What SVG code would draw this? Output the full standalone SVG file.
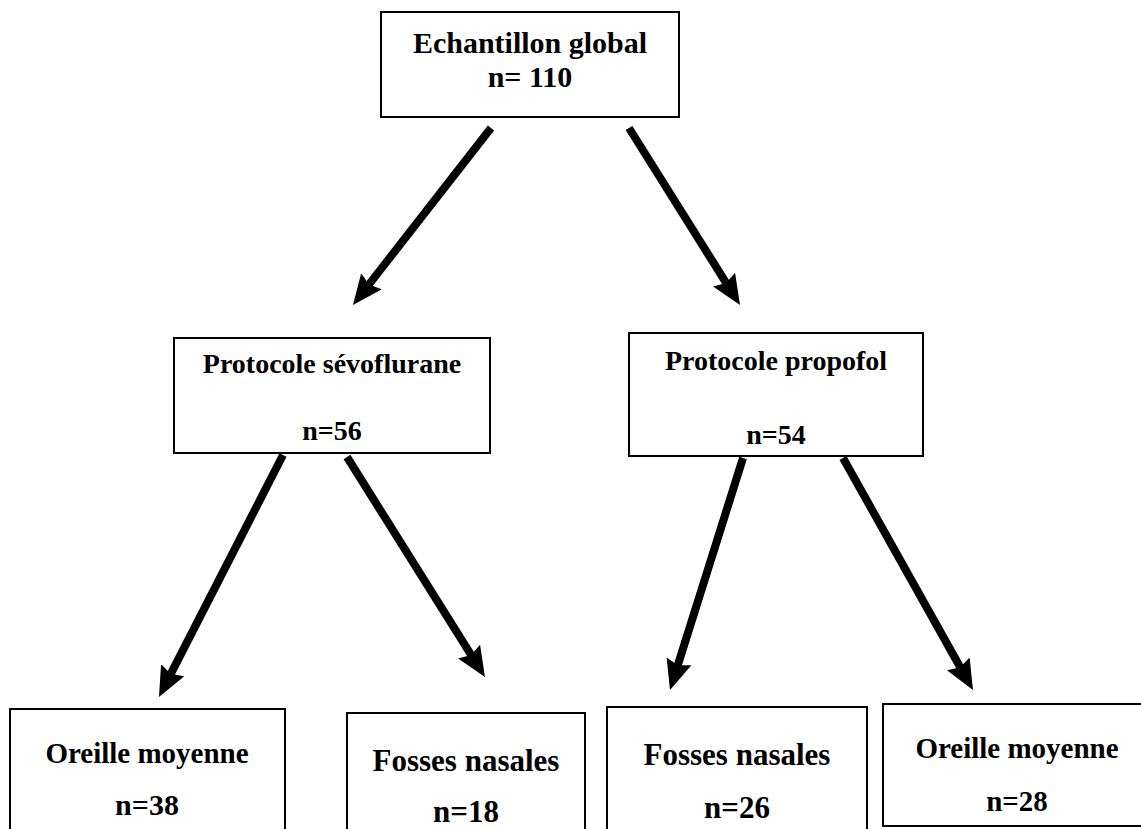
<svg xmlns="http://www.w3.org/2000/svg" width="1141" height="829" viewBox="0 0 1141 829">
<style>
.box{fill:#fff;stroke:#000;stroke-width:2}
.t{font-family:"Liberation Serif","Times New Roman",serif;font-weight:bold;fill:#000;text-anchor:middle}
.conn{stroke:#000;stroke-width:8;fill:none;marker-end:url(#ah)}
</style>
<defs>
<marker id="ah" markerUnits="userSpaceOnUse" viewBox="0 0 30 26" refX="8" refY="13" markerWidth="30" markerHeight="26" orient="auto">
<path d="M0,0 L30,13 L0,26 L4,13 z" fill="#000"/>
</marker>
</defs>
<rect width="1141" height="829" fill="#fff"/>
<g id="connectors">
<line class="conn" x1="491" y1="128" x2="366.5" y2="287.6"/>
<line class="conn" x1="629" y1="128" x2="728.3" y2="286.4"/>
<line class="conn" x1="283" y1="455" x2="169" y2="677.4"/>
<line class="conn" x1="347" y1="457" x2="473.3" y2="658.4"/>
<line class="conn" x1="743" y1="458" x2="676.6" y2="669"/>
<line class="conn" x1="843" y1="458" x2="962.2" y2="670.8"/>
</g>
<g id="n-global">
<rect class="box" x="381" y="12" width="298" height="105"/>
<text class="t" x="530" y="53" font-size="30">Echantillon global</text>
<text class="t" x="530" y="87" font-size="30">n= 110</text>
</g>
<g id="n-sevo">
<rect class="box" x="174" y="338" width="316" height="115"/>
<text class="t" x="332" y="373" font-size="28">Protocole sévoflurane</text>
<text class="t" x="332" y="440" font-size="28">n=56</text>
</g>
<g id="n-propo">
<rect class="box" x="629" y="333" width="294" height="123"/>
<text class="t" x="776" y="370" font-size="28">Protocole propofol</text>
<text class="t" x="776" y="444" font-size="28">n=54</text>
</g>
<g id="n-om1">
<rect class="box" x="10" y="709" width="275" height="130"/>
<text class="t" x="147" y="763" font-size="29">Oreille moyenne</text>
<text class="t" x="147" y="815" font-size="30">n=38</text>
</g>
<g id="n-fn1">
<rect class="box" x="347" y="713" width="238" height="130"/>
<text class="t" x="466" y="771" font-size="31">Fosses nasales</text>
<text class="t" x="466" y="822" font-size="31">n=18</text>
</g>
<g id="n-fn2">
<rect class="box" x="607" y="707" width="260" height="130"/>
<text class="t" x="737" y="765" font-size="31">Fosses nasales</text>
<text class="t" x="737" y="818" font-size="31">n=26</text>
</g>
<g id="n-om2">
<rect class="box" x="883" y="704" width="268" height="122"/>
<text class="t" x="1017" y="758" font-size="29">Oreille moyenne</text>
<text class="t" x="1017" y="811" font-size="29">n=28</text>
</g>
</svg>
